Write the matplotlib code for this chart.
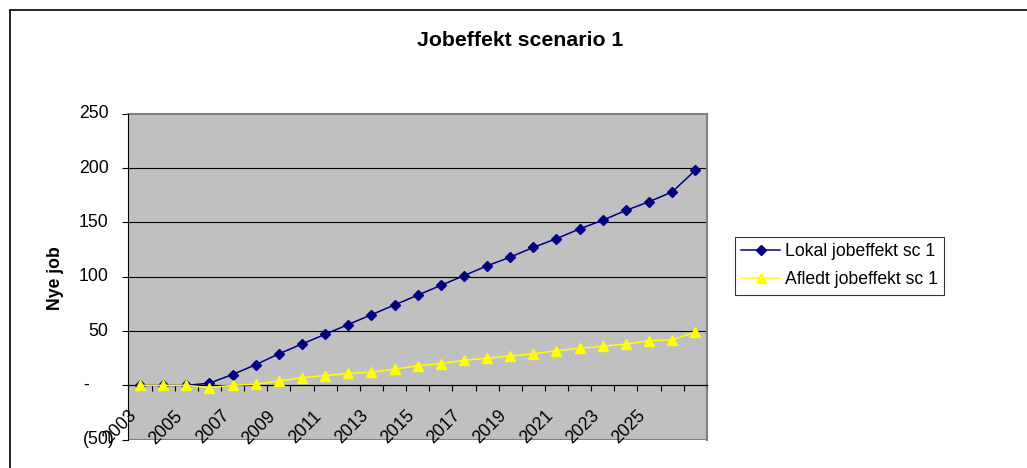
import matplotlib.pyplot as plt
import matplotlib.transforms as mtransforms
from matplotlib.lines import Line2D

# Data
years = list(range(2003, 2028))
lokal = [0, 0, 0, 2, 10, 19, 29, 38, 47, 56, 65, 74, 83, 92, 101, 110,
         118, 127, 135, 144, 152, 161, 169, 178, 198]
afledt = [0, 0, 0, -2, 0, 1, 4, 7, 9, 11, 12, 15, 18, 20, 23, 25,
          27, 29, 32, 34, 36, 38, 41, 42, 49]
yticks = [-50, 0, 50, 100, 150, 200, 250]
xlabel_years = list(range(2003, 2027, 2))

plt.rcParams['font.family'] = ['Liberation Sans', 'DejaVu Sans']
fs = 12.7

W, H = 1027, 468
fig = plt.figure(figsize=(W / 100, H / 100), dpi=100)
fig.patch.set_facecolor('white')

# Plot area in pixel coords: x 128.4..706.9, y 113.7..439.7
ax = fig.add_axes([128.4 / W, 1 - 439.7 / H, (706.9 - 128.4) / W, (439.7 - 113.7) / H])
ax.set_facecolor('#C0C0C0')

x = list(range(len(years)))
ax.plot(x, lokal, color='#000080', lw=1.1, marker='D', ms=5.5,
        mfc='#000080', mec='#000080', label='Lokal jobeffekt sc 1', zorder=4, clip_on=False)
ax.plot(x, afledt, color='#FFFF00', lw=1.1, marker='^', ms=7.5,
        mfc='#FFFF00', mec='#FFFF00', label='Afledt jobeffekt sc 1', zorder=5, clip_on=False)

ax.set_xlim(-0.5, len(years) - 0.5)
ax.set_ylim(-50, 250)

# gridlines
for v in yticks[1:-1]:
    ax.axhline(v, color='black', lw=0.8, zorder=1)
ax.axhline(-50, color='#808080', lw=1.5, zorder=2)

# spines
ax.spines['left'].set_color('black')
ax.spines['left'].set_linewidth(0.8)
ax.spines['left'].set_zorder(3)
for s in ['top', 'right']:
    ax.spines[s].set_color('#808080')
    ax.spines[s].set_linewidth(1.5)
ax.spines['bottom'].set_position(('data', 0))
ax.spines['bottom'].set_color('black')
ax.spines['bottom'].set_linewidth(0.8)

# y ticks
ax.set_yticks(yticks)
ax.tick_params(axis='y', direction='out', length=4, width=0.8, labelleft=False)

def fmt(v):
    if v > 0:
        return f"{v}"
    if v == 0:
        return "-"
    return f"({-v})"

ytrans = mtransforms.blended_transform_factory(ax.transAxes, ax.transData)
for v in yticks:
    if v > 0:
        dx = -20
    elif v == 0:
        dx = -39
    else:
        dx = -14
    t = mtransforms.offset_copy(ytrans, fig, x=dx, y=0, units='dots')
    ax.text(0, v, fmt(v), transform=t, ha='right', va='center',
            fontsize=fs, clip_on=False)

# x ticks: boundaries as ticks, labels at categories
ax.set_xticks([i - 0.5 for i in range(len(years) + 1)])
ax.set_xticklabels([])
ax.tick_params(axis='x', direction='out', length=4, width=0.8)
for yr in xlabel_years:
    i = years.index(yr)
    t = mtransforms.offset_copy(ax.transData, fig, x=-12, y=-22, units='dots')
    ax.text(i, 0, str(yr), transform=t, rotation=45, rotation_mode='anchor',
            ha='right', va='top', fontsize=fs, clip_on=False)

# titles
fig.text(520 / W, 1 - 40 / H, 'Jobeffekt scenario 1', ha='center', va='center',
         fontsize=15.3, fontweight='bold')
fig.text(56 / W, 1 - 278 / H, 'Nye job', ha='center', va='center', rotation=90,
         fontsize=fs, fontweight='bold')

# legend
leg = fig.legend(loc='upper left', bbox_to_anchor=(734.7 / W, 1 - 236.7 / H),
                 bbox_transform=fig.transFigure, borderaxespad=0, fontsize=fs,
                 frameon=True, fancybox=False, edgecolor='black',
                 handlelength=2.2, handletextpad=0.25, labelspacing=0.6,
                 borderpad=0.38)
leg.get_frame().set_linewidth(0.8)

# chart area border (left and top visible)
fig.add_artist(Line2D([10 / W, 10 / W], [0, 1 - 10 / H], color='black', lw=1.2,
                      transform=fig.transFigure))
fig.add_artist(Line2D([10 / W, 1], [1 - 10 / H, 1 - 10 / H], color='black', lw=1.2,
                      transform=fig.transFigure))

fig.savefig('out.png', dpi=100)
